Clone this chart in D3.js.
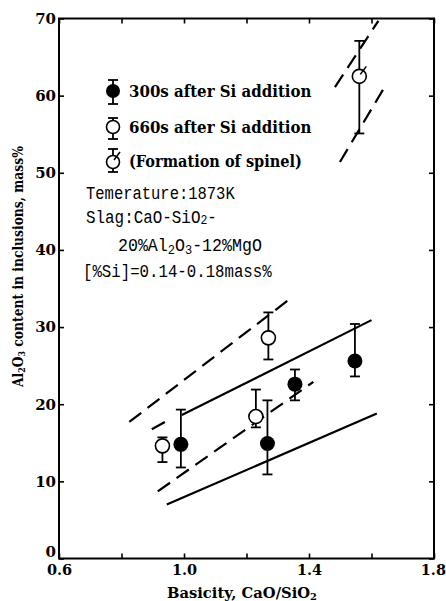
<!DOCTYPE html>
<html>
<head>
<meta charset="utf-8">
<script src="https://cdn.jsdelivr.net/npm/d3@7"></script>
<style>
body { margin: 0; background: #fff; }
</style>
</head>
<body>
<script>
// 300s after Si addition (filled)
var basicity300 = [0.99, 1.267, 1.355, 1.547];
var al300 = [14.8, 14.9, 22.6, 25.6];
var al300Hi = [19.3, 20.5, 24.5, 30.4];
var al300Lo = [11.8, 10.9, 20.5, 23.6];

// 660s after Si addition (open)
var basicity660 = [0.931, 1.23, 1.27];
var al660 = [14.6, 18.4, 28.6];
var al660Hi = [15.7, 21.9, 31.9];
var al660Lo = [12.5, 17.0, 25.8];

// formation of spinel
var basicitySpinel = [1.561];
var alSpinel = [62.5];
var alSpinelHi = [67.1];
var alSpinelLo = [55.1];

// guide lines, [basicity, Al2O3] end points
var solidLines = [
	[[0.993, 18.6], [1.60, 30.9]],
	[[0.945, 7.0], [1.617, 18.8]]
];
var dashedLines = [
	[[0.825, 17.7], [1.337, 33.6]],
	[[0.916, 8.7], [1.414, 22.9]],
	[[0.897, 16.75], [0.95, 17.96]],
	[[1.483, 61.1], [1.622, 69.7]],
	[[1.499, 51.4], [1.649, 61.6]]
];

var xTicks = [0.6, 0.8, 1.0, 1.2, 1.4, 1.6, 1.8];
var xLabels = [0.6, 1.0, 1.4, 1.8];
var yTicks = [0, 10, 20, 30, 40, 50, 60, 70];

var legendLabels = ["300s after Si addition", "660s after Si addition", "(Formation of spinel)"];

var width = 446;
var height = 601;

var svg = d3.select("body").append("svg")
	.attr("width", width)
	.attr("height", height);

var x = d3.scaleLinear().domain([0.6, 1.8]).range([59, 434]);
var y = d3.scaleLinear().domain([0, 70]).range([558.5, 18.5]);

var serif = "'DejaVu Serif', serif";
var mono = "'Liberation Mono', 'DejaVu Sans Mono', monospace";

// squeeze a text horizontally so it spans the wanted width
function fit(t, pre, w) {
	var nat = t.node().getBBox().width;
	t.attr("transform", pre + " scale(" + (w / nat) + ",1)");
	return t;
}

// ticks pointing inward on all four sides
function inner(g) {
	g.select(".domain").remove();
	g.selectAll("line").attr("stroke", "#000").attr("stroke-width", 1.6);
}
svg.append("g").attr("transform", "translate(0," + y(0) + ")")
	.call(d3.axisTop(x).tickValues(xTicks).tickSize(5).tickFormat(""))
	.call(inner);
svg.append("g").attr("transform", "translate(0," + y(70) + ")")
	.call(d3.axisBottom(x).tickValues(xTicks).tickSize(5).tickFormat(""))
	.call(inner);
svg.append("g").attr("transform", "translate(" + x(0.6) + ",0)")
	.call(d3.axisRight(y).tickValues(yTicks).tickSize(5).tickFormat(""))
	.call(inner);
svg.append("g").attr("transform", "translate(" + x(1.8) + ",0)")
	.call(d3.axisLeft(y).tickValues(yTicks).tickSize(5).tickFormat(""))
	.call(inner);

// tick labels
var xl = svg.append("g").attr("transform", "translate(0," + y(0) + ")")
	.call(d3.axisBottom(x).tickValues(xLabels).tickSize(0).tickPadding(6).tickFormat(d3.format(".1f")));
xl.select(".domain").remove();
xl.selectAll("text").attr("font-family", serif).attr("font-weight", "bold").attr("font-size", 14.5).attr("fill", "#000");
xl.selectAll("text").filter(function(d) { return d == 1.8; }).attr("text-anchor", "end").attr("x", 11.5);

var yl = svg.append("g").attr("transform", "translate(" + x(0.6) + ",0)")
	.call(d3.axisLeft(y).tickValues(yTicks).tickSize(0).tickPadding(3));
yl.select(".domain").remove();
yl.selectAll("text").attr("font-family", serif).attr("font-weight", "bold").attr("font-size", 15).attr("fill", "#000");
// lift the "0" a little so it stays clear of "0.6"
yl.selectAll("text").filter(function(d) { return d == 0; }).attr("dy", "-0.15em");

// frame
svg.append("rect")
	.attr("x", x(0.6)).attr("y", y(70))
	.attr("width", x(1.8) - x(0.6)).attr("height", y(0) - y(70))
	.attr("fill", "none").attr("stroke", "#000").attr("stroke-width", 2);

// axis titles
var xt = svg.append("text")
	.attr("font-family", serif).attr("font-weight", "bold").attr("font-size", 15);
xt.append("tspan").text("Basicity, CaO/SiO");
xt.append("tspan").attr("font-size", 10).attr("dy", 2).text("2");
fit(xt, "translate(167,598)", 150);

var yt = svg.append("text")
	.attr("font-family", serif).attr("font-weight", "bold").attr("font-size", 14);
yt.append("tspan").text("Al");
yt.append("tspan").attr("font-size", 9).attr("dy", 2).text("2");
yt.append("tspan").attr("dy", -2).text("O");
yt.append("tspan").attr("font-size", 9).attr("dy", 2).text("3");
yt.append("tspan").attr("dy", -2).text(" content in inclusions, mass%");
fit(yt, "translate(23,387) rotate(-90)", 242);

// guide lines
var line = d3.line().x(function(d) { return x(d[0]); }).y(function(d) { return y(d[1]); });
svg.selectAll(".solid").data(solidLines).enter().append("path")
	.attr("class", "solid")
	.attr("d", line)
	.attr("fill", "none").attr("stroke", "#000").attr("stroke-width", 2.2);
svg.selectAll(".dashed").data(dashedLines).enter().append("path")
	.attr("class", "dashed")
	.attr("d", line)
	.attr("fill", "none").attr("stroke", "#000").attr("stroke-width", 2.2)
	.attr("stroke-dasharray", "15,8");

// error bars with caps
function errorBars(xs, hi, lo) {
	xs.forEach(function(v, i) {
		var cx = x(v);
		svg.append("line").attr("x1", cx).attr("x2", cx).attr("y1", y(hi[i])).attr("y2", y(lo[i]))
			.attr("stroke", "#000").attr("stroke-width", 1.8);
		[hi[i], lo[i]].forEach(function(e) {
			svg.append("line").attr("x1", cx - 5).attr("x2", cx + 5).attr("y1", y(e)).attr("y2", y(e))
				.attr("stroke", "#000").attr("stroke-width", 1.8);
		});
	});
}
errorBars(basicity300, al300Hi, al300Lo);
errorBars(basicity660, al660Hi, al660Lo);
errorBars(basicitySpinel, alSpinelHi, alSpinelLo);

svg.selectAll(".p300").data(basicity300).enter().append("circle")
	.attr("class", "p300")
	.attr("cx", function(d) { return x(d); })
	.attr("cy", function(d, i) { return y(al300[i]); })
	.attr("r", 7.5).attr("fill", "#000");

svg.selectAll(".p660").data(basicity660).enter().append("circle")
	.attr("class", "p660")
	.attr("cx", function(d) { return x(d); })
	.attr("cy", function(d, i) { return y(al660[i]); })
	.attr("r", 7).attr("fill", "#fff").attr("stroke", "#000").attr("stroke-width", 1.6);

function spinelMark(cx, cy, r) {
	svg.append("circle").attr("cx", cx).attr("cy", cy).attr("r", r)
		.attr("fill", "#fff").attr("stroke", "#000").attr("stroke-width", 1.6);
	svg.append("line").attr("x1", cx + 1).attr("y1", cy - 2).attr("x2", cx + 7).attr("y2", cy - 10)
		.attr("stroke", "#000").attr("stroke-width", 1.6);
}
basicitySpinel.forEach(function(d, i) { spinelMark(x(d), y(alSpinel[i]), 7); });

// legend
var lx = 113;
var rows = [
	{cy: 91, top: 80, bot: 104, base: 97},
	{cy: 127, top: 118, bot: 139, base: 133},
	{cy: 162, top: 149, bot: 172, base: 167}
];
rows.forEach(function(r, i) {
	svg.append("line").attr("x1", lx).attr("x2", lx).attr("y1", r.top).attr("y2", r.bot)
		.attr("stroke", "#000").attr("stroke-width", 1.8);
	[r.top, r.bot].forEach(function(e) {
		svg.append("line").attr("x1", lx - 5).attr("x2", lx + 5).attr("y1", e).attr("y2", e)
			.attr("stroke", "#000").attr("stroke-width", 1.8);
	});
	if (i == 0) {
		svg.append("circle").attr("cx", lx).attr("cy", r.cy).attr("r", 7).attr("fill", "#000");
	} else if (i == 1) {
		svg.append("circle").attr("cx", lx).attr("cy", r.cy).attr("r", 6.5)
			.attr("fill", "#fff").attr("stroke", "#000").attr("stroke-width", 1.6);
	} else {
		spinelMark(lx, r.cy, 6.5);
	}
	var t = svg.append("text")
		.attr("font-family", serif).attr("font-weight", "bold").attr("font-size", 16)
		.text(legendLabels[i]);
	fit(t, "translate(129," + r.base + ")", i == 2 ? 173 : 183);
});

// experimental conditions
function note(px, py, len, parts) {
	var t = svg.append("text").attr("font-family", mono).attr("font-size", 18);
	parts.forEach(function(p) {
		var s = t.append("tspan").text(p[0]);
		if (p[1]) s.attr("font-size", 13).attr("dy", p[1]);
		if (p[2]) s.attr("dy", p[2]);
	});
	return fit(t, "translate(" + px + "," + py + ")", len);
}
note(86, 199, 149, [["Temerature:1873K"]]);
note(86, 223, 131, [["Slag:CaO-SiO"], ["2", 1], ["-", 0, -1]]);
note(118, 251, 144, [["20%Al"], ["2", 3], ["O", 0, -3], ["3", 3], ["-12%MgO", 0, -3]]);
note(83, 277, 189, [["[%Si]=0.14-0.18mass%"]]);
</script>
</body>
</html>
